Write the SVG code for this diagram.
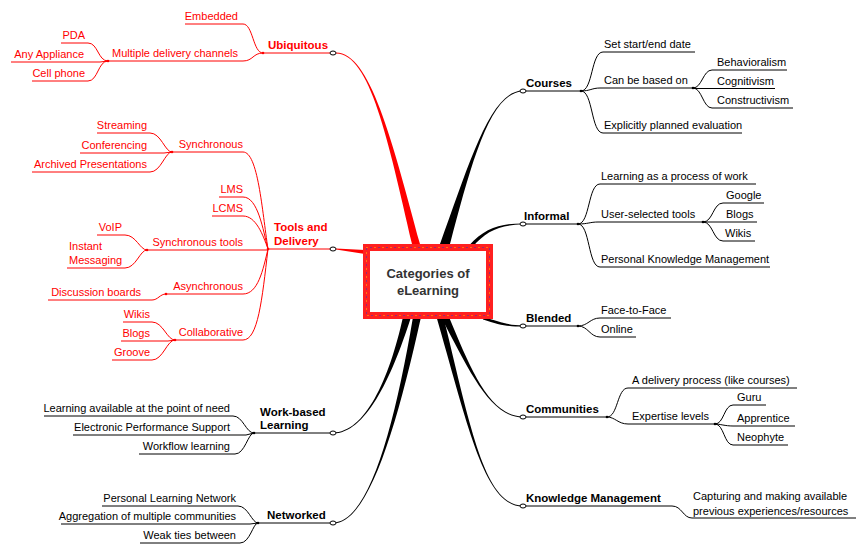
<svg xmlns="http://www.w3.org/2000/svg" width="866" height="556" viewBox="0 0 866 556">
<style>
text{font-family:"Liberation Sans",Arial,sans-serif;font-size:11px}
.r{fill:#ff0000}.k{fill:#000}
.e{text-anchor:end}
.b{font-weight:bold;font-size:11.5px}
.lr{fill:none;stroke:#ff0000;stroke-width:1}
.lk{fill:none;stroke:#000;stroke-width:1}
.tr{fill:#ff0000}.tk{fill:#000}
.end{fill:#fff;stroke:#000;stroke-width:1}
.c{font-weight:bold;font-size:13px;fill:#333;text-anchor:middle}
</style>
<rect width="866" height="556" fill="#fff"/>
<g id="connectors">
<!-- main tapered branches -->
<path class="tr" d="M412 244 C388 140 370 53.6 336 53.6 L336 52.4 C370 52.4 392 140 420 244 Z"/>
<path class="tr" d="M336 248.5 L365 250 L365 254 L336 249.5 Z"/>
<path class="tk" d="M440 244 C469 165 490 90.5 523 90.5 L523 91.5 C490 91.5 471 165 450 244 Z"/>
<path class="tk" d="M469.5 245 C484 229 500 223.4 523 223.4 L523 224.6 C500 224.6 486 231 472.5 247 Z"/>
<path class="tk" d="M483 316.5 C500 322.5 510 325.4 523 325.4 L523 326.6 C510 326.6 500 325.5 483 319.5 Z"/>
<path class="tk" d="M441 317 C469 370 490 417.5 523 417.5 L523 416.5 C490 416.5 471 370 449 317 Z"/>
<path class="tk" d="M436.5 317 C469 430 485 506.5 523 506.5 L523 505.5 C485 505.5 471 430 443.5 317 Z"/>
<path class="tk" d="M403 317 C389 380 365 432.5 333 432.5 L333 433.5 C365 433.5 391 380 411 317 Z"/>
<path class="tk" d="M413 317 C394 430 368 522.5 333 522.5 L333 523.5 C368 523.5 396 430 421 317 Z"/>
<!-- Ubiquitous -->
<path class="lr" d="M263 53 H333"/>
<path class="lr" d="M185 24 H243 C253 24 253 53 263 53"/>
<path class="lr" d="M108 61 H243 C253 61 253 53 263 53"/>
<path class="lr" d="M61 43 H88 C98 43 98 61 108 61"/>
<path class="lr" d="M11 62 H100 L108 61"/>
<path class="lr" d="M32 81 H88 C98 81 98 61 108 61"/>
<!-- Tools and Delivery -->
<path class="lr" d="M268 249 H333"/>
<path class="lr" d="M172 152 H243 C258 152 262 210 268 249"/>
<path class="lr" d="M97 133 H150 C161 133 165 152 172 152"/>
<path class="lr" d="M80 153 H164 L172 152"/>
<path class="lr" d="M32 172 H150 C161 172 165 152 172 152"/>
<path class="lr" d="M219 197 H243 C258 197 263 230 268 249"/>
<path class="lr" d="M212 216 H243 C256 216 263 235 268 249"/>
<path class="lr" d="M147 250 H268"/>
<path class="lr" d="M97 235 H125 C136 235 140 250 147 250"/>
<path class="lr" d="M67 268 H125 C136 268 140 250 147 250"/>
<path class="lr" d="M166 294 H243 C258 294 263 270 268 249"/>
<path class="lr" d="M48 300 H152 C158 300 160 294 166 294"/>
<path class="lr" d="M175 340 H243 C258 340 262 300 268 249"/>
<path class="lr" d="M123 322 H152 C163 322 167 340 175 340"/>
<path class="lr" d="M121 341 H168 L175 340"/>
<path class="lr" d="M112 360 H152 C163 360 167 340 175 340"/>
<!-- Work-based Learning -->
<path class="lk" d="M254 433 H333"/>
<path class="lk" d="M44 416 H233 C243 416 246 433 254 433"/>
<path class="lk" d="M73 435 H246 L254 433"/>
<path class="lk" d="M139 454 H235 C245 454 248 433 254 433"/>
<!-- Networked -->
<path class="lk" d="M258 523 H333"/>
<path class="lk" d="M102 506 H238 C248 506 252 523 258 523"/>
<path class="lk" d="M61 524 H250 L258 523"/>
<path class="lk" d="M140 543 H240 C250 543 253 523 258 523"/>
<!-- Courses -->
<path class="lk" d="M523 91 H581"/>
<path class="lk" d="M581 91 C593 91 591 52 603 52 H695"/>
<path class="lk" d="M581 91 C590 91 592 88 600 88 H693"/>
<path class="lk" d="M693 88 C702 88 703 70 712 70 H787"/>
<path class="lk" d="M693 88.5 H775"/>
<path class="lk" d="M693 88 C702 88 703 108 712 108 H793"/>
<path class="lk" d="M581 91 C593 91 591 133 603 133 H742"/>
<!-- Informal -->
<path class="lk" d="M523 224 H578"/>
<path class="lk" d="M578 224 C590 224 588 184 600 184 H756"/>
<path class="lk" d="M578 224 C588 224 590 222 598 222 H703"/>
<path class="lk" d="M703 222 C713 222 713 203 723 203 H764"/>
<path class="lk" d="M703 222 H757"/>
<path class="lk" d="M703 222 C713 222 713 241 723 241 H755"/>
<path class="lk" d="M578 224 C590 224 588 267 600 267 H770"/>
<!-- Blended -->
<path class="lk" d="M523 326 H578"/>
<path class="lk" d="M578 326 C588 326 590 318 600 318 H671"/>
<path class="lk" d="M578 326 C588 326 590 337 600 337 H636"/>
<!-- Communities -->
<path class="lk" d="M523 417 H607"/>
<path class="lk" d="M607 417 C618 417 617 388 628 388 H797"/>
<path class="lk" d="M607 417 C615 417 618 424 628 424 H715"/>
<path class="lk" d="M715 424 C724 424 724 405 733 405 H766"/>
<path class="lk" d="M715 424 C720 424 725 426 733 426 H795"/>
<path class="lk" d="M715 424 C724 424 724 445 733 445 H788"/>
<!-- Knowledge Management -->
<path class="lk" d="M523 506 H672 C682 506 683 518 692 518 H856"/>
<!-- junction dots -->
<g class="tr">
<circle cx="263" cy="53" r="1.3"/><circle cx="108" cy="61" r="1.3"/>
<circle cx="268" cy="249" r="1.3"/><circle cx="172" cy="152" r="1.3"/>
<circle cx="147" cy="250" r="1.3"/><circle cx="166" cy="294" r="1.3"/>
<circle cx="175" cy="340" r="1.3"/>
</g>
<g class="tk">
<circle cx="254" cy="433" r="1.3"/><circle cx="258" cy="523" r="1.3"/>
<circle cx="581" cy="91" r="1.3"/><circle cx="693" cy="88" r="1.3"/>
<circle cx="578" cy="224" r="1.3"/><circle cx="703" cy="222" r="1.3"/>
<circle cx="578" cy="326" r="1.3"/><circle cx="607" cy="417" r="1.3"/>
<circle cx="715" cy="424" r="1.3"/>
</g>
<!-- end circles -->
<ellipse class="end" cx="333" cy="53" rx="3" ry="2"/>
<ellipse class="end" cx="333" cy="249" rx="3" ry="2"/>
<ellipse class="end" cx="333" cy="433" rx="3" ry="2"/>
<ellipse class="end" cx="333" cy="523" rx="3" ry="2"/>
<ellipse class="end" cx="523" cy="91" rx="3" ry="2"/>
<ellipse class="end" cx="523" cy="224" rx="3" ry="2"/>
<ellipse class="end" cx="523" cy="326" rx="3" ry="2"/>
<ellipse class="end" cx="523" cy="417" rx="3" ry="2"/>
<ellipse class="end" cx="523" cy="506" rx="3" ry="2"/>
</g>
<g id="center">
<rect x="366.5" y="247.5" width="123" height="68" fill="#fff" stroke="#ff2020" stroke-width="7"/>
<rect x="366.5" y="247.5" width="123" height="68" fill="none" stroke="#ffc800" stroke-width="1" stroke-dasharray="1 7"/>
<rect x="366.5" y="247.5" width="123" height="68" fill="none" stroke="#2838c8" stroke-width="1" stroke-dasharray="1 7" stroke-dashoffset="4"/>
<text class="c" x="428" y="278">Categories of</text>
<text class="c" x="428" y="295">eLearning</text>
</g>
<g id="ubiquitous"><text class="r b" x="268" y="49">Ubiquitous</text></g>
<g id="embedded"><text class="r e" x="238" y="20">Embedded</text></g>
<g id="multiple-delivery"><text class="r e" x="238" y="57">Multiple delivery channels</text></g>
<g id="pda"><text class="r e" x="85" y="39">PDA</text></g>
<g id="any-appliance"><text class="r e" x="84" y="58">Any Appliance</text></g>
<g id="cell-phone"><text class="r e" x="85" y="77">Cell phone</text></g>
<g id="tools"><text class="r b" x="274" y="231">Tools and</text><text class="r b" x="274" y="245">Delivery</text></g>
<g id="synchronous"><text class="r e" x="243" y="148">Synchronous</text></g>
<g id="streaming"><text class="r e" x="147" y="129">Streaming</text></g>
<g id="conferencing"><text class="r e" x="147" y="149">Conferencing</text></g>
<g id="archived"><text class="r e" x="147" y="168">Archived Presentations</text></g>
<g id="lms"><text class="r e" x="243" y="193">LMS</text></g>
<g id="lcms"><text class="r e" x="243" y="212">LCMS</text></g>
<g id="sync-tools"><text class="r e" x="243" y="246">Synchronous tools</text></g>
<g id="voip"><text class="r e" x="122" y="231">VoIP</text></g>
<g id="im"><text class="r" x="69" y="250">Instant</text><text class="r" x="69" y="264">Messaging</text></g>
<g id="asynchronous"><text class="r e" x="243" y="290">Asynchronous</text></g>
<g id="discussion"><text class="r e" x="141" y="296">Discussion boards</text></g>
<g id="collaborative"><text class="r e" x="243" y="336">Collaborative</text></g>
<g id="wikis-l"><text class="r e" x="150" y="318">Wikis</text></g>
<g id="blogs-l"><text class="r e" x="150" y="337">Blogs</text></g>
<g id="groove"><text class="r e" x="150" y="356">Groove</text></g>
<g id="work-based"><text class="k b" x="260" y="416">Work-based</text><text class="k b" x="260" y="429">Learning</text></g>
<g id="point-of-need"><text class="k e" x="230" y="412">Learning available at the point of need</text></g>
<g id="eps"><text class="k e" x="230" y="431">Electronic Performance Support</text></g>
<g id="workflow"><text class="k e" x="230" y="450">Workflow learning</text></g>
<g id="networked"><text class="k b" x="267" y="519">Networked</text></g>
<g id="pln"><text class="k e" x="236" y="502">Personal Learning Network</text></g>
<g id="aggregation"><text class="k e" x="236" y="520">Aggregation of multiple communities</text></g>
<g id="weak-ties"><text class="k e" x="236" y="539">Weak ties between</text></g>
<g id="courses"><text class="k b" x="526" y="87">Courses</text></g>
<g id="start-end"><text class="k" x="604" y="48">Set start/end date</text></g>
<g id="based-on"><text class="k" x="604" y="84">Can be based on</text></g>
<g id="behavioralism"><text class="k" x="717" y="66">Behavioralism</text></g>
<g id="cognitivism"><text class="k" x="717" y="85">Cognitivism</text></g>
<g id="constructivism"><text class="k" x="717" y="104">Constructivism</text></g>
<g id="evaluation"><text class="k" x="604" y="129">Explicitly planned evaluation</text></g>
<g id="informal"><text class="k b" x="524" y="220">Informal</text></g>
<g id="process-of-work"><text class="k" x="601" y="180">Learning as a process of work</text></g>
<g id="user-tools"><text class="k" x="601" y="218">User-selected tools</text></g>
<g id="google"><text class="k" x="726" y="199">Google</text></g>
<g id="blogs-r"><text class="k" x="726" y="218">Blogs</text></g>
<g id="wikis-r"><text class="k" x="725" y="237">Wikis</text></g>
<g id="pkm"><text class="k" x="601" y="263">Personal Knowledge Management</text></g>
<g id="blended"><text class="k b" x="526" y="322">Blended</text></g>
<g id="f2f"><text class="k" x="601" y="314">Face-to-Face</text></g>
<g id="online"><text class="k" x="601" y="333">Online</text></g>
<g id="communities"><text class="k b" x="526" y="413">Communities</text></g>
<g id="delivery-process"><text class="k" x="632" y="384">A delivery process (like courses)</text></g>
<g id="expertise"><text class="k" x="632" y="420">Expertise levels</text></g>
<g id="guru"><text class="k" x="737" y="401">Guru</text></g>
<g id="apprentice"><text class="k" x="737" y="422">Apprentice</text></g>
<g id="neophyte"><text class="k" x="737" y="441">Neophyte</text></g>
<g id="km"><text class="k b" x="526" y="502">Knowledge Management</text></g>
<g id="capturing"><text class="k" x="693" y="500">Capturing and making available</text><text class="k" x="693" y="515">previous experiences/resources</text></g>
</svg>
